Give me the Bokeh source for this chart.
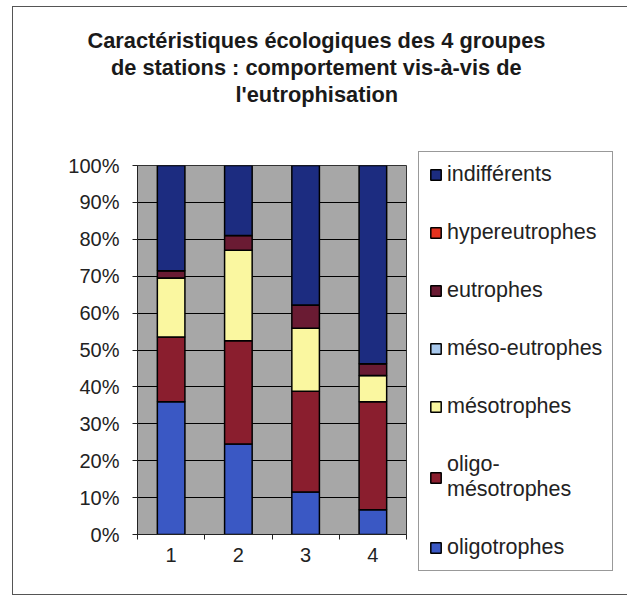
from bokeh.plotting import figure
from bokeh.models import (FixedTicker, PrintfTickFormatter, Legend, LegendItem,
                          Range1d, Title)
from bokeh.embed import file_html
from bokeh.resources import INLINE

# ---- data (percent of species per group) ----
groups = [1, 2, 3, 4]
oligotrophes = [36.0, 24.5, 11.5, 6.7]
oligo_mesotrophes = [17.5, 28.0, 27.3, 29.3]
mesotrophes = [16.0, 24.5, 17.1, 7.1]
meso_eutrophes = [0.0, 0.0, 0.0, 0.0]
eutrophes = [2.0, 4.0, 6.3, 3.2]
hypereutrophes = [0.0, 0.0, 0.0, 0.0]
indifferents = [28.5, 19.0, 37.8, 53.7]

series_names = ["oligotrophes", "oligo-\nmésotrophes", "mésotrophes",
                "méso-eutrophes", "eutrophes", "hypereutrophes", "indifférents"]
series_values = [oligotrophes, oligo_mesotrophes, mesotrophes, meso_eutrophes,
                 eutrophes, hypereutrophes, indifferents]
colors = ["#3A58C4", "#8A1E2E", "#FAF7A0", "#A8C8EC", "#6A1B33", "#E4321E", "#1C2C80"]
y_ticks = [0, 10, 20, 30, 40, 50, 60, 70, 80, 90, 100]
title_lines = ["Caractéristiques écologiques des 4 groupes",
               "de stations : comportement vis-à-vis de",
               "l'eutrophisation"]
title_offsets = [-50, -26.5, 98]

FONT = "Liberation Sans"

p = figure(frame_width=269, frame_height=369, output_backend="svg",
           toolbar_location=None,
           x_range=Range1d(0.5, 4.5), y_range=Range1d(0, 100),
           min_border_left=124, min_border_right=226, min_border_top=158,
           min_border_bottom=60)
p.styles = {"margin-left": "12px", "margin-top": "6px",
            "border": "1px solid #555555"}
p.background_fill_color = "#A7A7A7"
p.border_fill_color = "white"
p.outline_line_color = "#333333"
p.outline_line_width = 1

keys = ["s%d" % i for i in range(len(series_values))]
data = {"x": groups}
for k, v in zip(keys, series_values):
    data[k] = v
renderers = p.vbar_stack(keys, x="x", width=0.41, source=data, color=colors,
                         line_color="black", line_width=1.5)

# axes
p.xaxis.ticker = FixedTicker(ticks=groups, minor_ticks=[0.5, 1.5, 2.5, 3.5, 4.5])
p.xaxis.major_tick_line_color = None
p.xaxis.minor_tick_in = 0
p.xaxis.minor_tick_out = 5
p.xaxis.minor_tick_line_color = "#222222"
p.xaxis.axis_line_color = "#222222"
p.xaxis.major_label_text_font = FONT
p.xaxis.major_label_text_font_size = "20px"
p.xaxis.major_label_text_color = "#222222"
p.xaxis.major_label_standoff = 7

p.yaxis.ticker = FixedTicker(ticks=y_ticks)
p.yaxis.formatter = PrintfTickFormatter(format="%d%%")
p.yaxis.major_tick_in = 0
p.yaxis.major_tick_out = 5
p.yaxis.minor_tick_line_color = None
p.yaxis.major_tick_line_color = "#222222"
p.yaxis.axis_line_color = "#222222"
p.yaxis.major_label_text_font = FONT
p.yaxis.major_label_text_font_size = "20px"
p.yaxis.major_label_text_color = "#222222"
p.yaxis.major_label_standoff = 13

p.xgrid.grid_line_color = None
p.ygrid.ticker = FixedTicker(ticks=y_ticks)
p.ygrid.grid_line_color = "black"
p.ygrid.grid_line_width = 1

# legend (reverse order, top = indifférents)
items = [LegendItem(label=n, renderers=[r]) for n, r in zip(series_names, renderers)]
items = items[::-1]
legend = Legend(items=items, location=(12, -37), orientation="vertical",
                label_text_font=FONT, label_text_font_size="21.5px",
                label_text_color="#222222", label_text_line_height=1.0,
                glyph_width=13, glyph_height=13, label_standoff=5,
                label_height=22, spacing=33, padding=10, margin=0,
                border_line_color="#333333", border_line_width=1,
                background_fill_color="white", background_fill_alpha=1)
p.add_layout(legend, "right")

# spacer between the title block and the plot (first added is nearest the plot)
p.add_layout(Title(text=" ", text_font=FONT, text_font_size="20px",
                   standoff=35), "above")
for t, off in list(zip(title_lines, title_offsets))[::-1]:
    p.add_layout(Title(text=t, align="left", offset=off, text_font=FONT,
                       text_font_style="bold", text_font_size="21.8px",
                       text_color="#1a1a1a", standoff=0), "above")

open("out.html", "w").write(file_html(p, INLINE))
